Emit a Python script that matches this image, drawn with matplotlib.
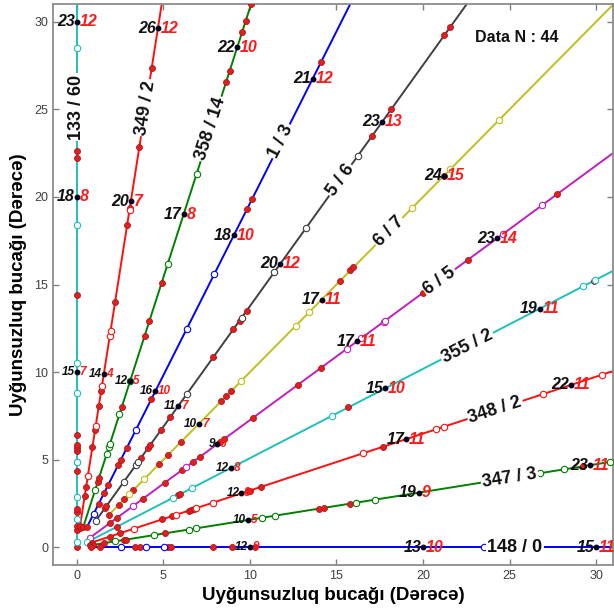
import numpy as np
import matplotlib
matplotlib.use("Agg")
from matplotlib import pyplot as plt

plt.rcParams["font.family"] = ["Liberation Sans", "DejaVu Sans"]

# direction of every line (degrees from x axis) and its label
angles = [90, 81, 72, 63, 54, 45, 36, 27, 18, 9, 0]
line_labels = ["133 / 60", "349 / 2", "358 / 14", "1 / 3", "5 / 6", "6 / 7",
               "6 / 5", "355 / 2", "348 / 2", "347 / 3", "148 / 0"]
label_pos_r = [25.1, 25.4, 25.1, 26.0, 25.9, 25.5, 25.9, 25.3, 25.4, 25.3, 25.3]

# labelled points at r = 10, 20, 30 on each line
label_r = [10, 20, 30]
black_nums = [[15, 18, 23], [14, 20, 26], [12, 17, 22], [16, 18, 21], [11, 20, 23], [10, 17, 24],
              [9, 17, 23], [12, 15, 19], [12, 17, 22], [10, 19, 23], [12, 13, 15]]
red_nums = [[7, 8, 12], [4, 7, 12], [5, 8, 10], [10, 10, 12], [7, 12, 13], [7, 11, 15],
            [6, 11, 14], [8, 10, 11], [8, 11, 11], [5, 9, 11], [9, 10, 11]]

# radial positions of the filled (red) and open markers along every line
filled_r = [
    [0.0, 1.0, 1.2, 2.05, 2.2, 4.35, 4.9, 5.5, 5.65, 5.85, 6.4, 14.4, 22.2, 22.6],
    [1.1, 1.25, 3.0, 3.5, 5.8, 6.8, 8.15, 9.05, 14.2, 18.6, 19.6, 23.1, 27.7],
    [1.2, 3.9, 4.15, 8.4, 12.7, 13.6, 15.85, 27.9, 28.6, 30.9, 31.6, 32.6],
    [1.3, 2.8, 3.5, 4.0, 5.3, 5.6, 6.35, 9.5, 21.7, 22.3, 31.1],
    [2.8, 2.9, 6.3, 7.0, 7.25, 8.3, 9.2, 13.4, 15.4, 16.0, 16.7, 29.0, 30.9, 36.1, 36.7],
    [2.6, 3.45, 3.9, 4.6, 6.7, 7.45, 8.5, 11.8, 12.2, 12.6, 21.5, 22.35, 22.6, 30.0],
    [2.35, 2.9, 4.7, 6.3, 7.5, 8.3, 8.8, 10.2, 10.5, 12.55, 15.8, 17.4, 24.7, 27.9, 34.3],
    [2.6, 6.55, 6.67, 17.6, 33.5],
    [0.9, 2.0, 2.65, 5.2, 5.8, 6.8, 6.95, 7.1, 10.4, 10.5, 11.2, 18.6],
    [0.8, 0.95, 1.6, 2.75, 2.9, 5.15, 14.15, 14.45, 15.95, 29.6],
    [0.85, 1.35, 3.35, 3.65, 5.3, 5.45, 7.85, 8.95, 10.3],
]
open_r = [
    [0.3, 1.6, 2.9, 4.9, 8.8, 10.5, 18.4, 28.5],
    [4.1, 7.0, 9.3, 12.2, 12.5, 19.5],
    [3.45, 5.6, 6.0, 6.2, 8.0, 10.0, 17.0, 22.4],
    [2.15, 7.5, 14.0, 17.5],
    [1.9, 4.6, 5.8, 6.05, 10.85, 16.2, 19.4, 22.5, 27.6],
    [4.3, 5.5, 13.4, 17.9, 19.0, 27.4, 30.5, 34.5],
    [0.95, 4.0, 7.8, 19.3, 20.3, 21.9, 22.0, 30.4, 33.2],
    [0.7, 6.27, 7.5, 16.55, 32.8, 33.6],
    [3.5, 6.0, 7.25, 8.25, 17.4, 21.8, 22.3, 28.3, 31.9],
    [2.25, 4.5, 6.55, 6.95, 10.85, 11.6, 16.3, 17.45, 27.1, 28.5, 31.2],
    [2.55, 4.02, 5.02, 23.5],
]
n_data = 44

colors = ["#1fbfbf", "#ff1010", "#008000", "#0000ff", "#404040", "#bfbf1f",
          "#bf1fbf", "#1fbfbf", "#ff1010", "#008000", "#0000ff"]

fig = plt.figure(figsize=(6.14, 6.08), dpi=100)
ax = fig.add_axes([0.0868, 0.0707, 0.9112, 0.9227])

for i, ang in enumerate(angles):
    th = np.deg2rad(ang)
    c, s = np.cos(th), np.sin(th)
    if ang == 90:
        c = 0.0
    if ang == 0:
        s = 0.0
    r_all = filled_r[i] + open_r[i]
    r_line = np.array([min(r_all), 50.0])
    ax.plot(r_line * c, r_line * s, color=colors[i], lw=1.4, zorder=2)

    fr = np.array(filled_r[i])
    ax.plot(fr * c, fr * s, "o", ms=4.3, mfc="#e02020", mec="#b01515", mew=0.6, zorder=3)
    orr = np.array(open_r[i])
    ax.plot(orr * c, orr * s, "o", ms=4.6, mfc="white", mec=colors[i], mew=0.8, zorder=3)

    # labelled points
    for j, r in enumerate(label_r):
        x, y = r * c, r * s
        fs = 8.5 if r == 10 else 11.5
        ax.plot(x, y, "o", ms=3.2, color="#000020", zorder=5)
        ax.annotate(str(black_nums[i][j]), (x, y), xytext=(-1.5, 0), textcoords="offset points",
                    ha="right", va="center", fontsize=fs, fontweight="bold", fontstyle="italic",
                    color="#111111", zorder=6)
        ax.annotate(str(red_nums[i][j]), (x, y), xytext=(2.0, 0), textcoords="offset points",
                    ha="left", va="center", fontsize=fs, fontweight="bold", fontstyle="italic",
                    color="#ff1a1a", zorder=6)

    # line label
    lr = label_pos_r[i]
    ax.text(lr * c, lr * s, line_labels[i], rotation=ang, rotation_mode="anchor",
            ha="center", va="center", fontsize=13, fontweight="bold", color="#111111",
            bbox=dict(facecolor="white", edgecolor="none", pad=1.0), zorder=4)

ax.text(23.0, 29.1, f"Data N : {n_data}", fontsize=11.5, fontweight="bold",
        ha="left", va="center", color="#111111")

ax.set_xlim(-1.35, 30.95)
ax.set_ylim(-1.0, 31.0)
ax.set_xticks([0, 5, 10, 15, 20, 25, 30])
ax.set_yticks([0, 5, 10, 15, 20, 25, 30])
ax.tick_params(direction="in", length=4, width=1, color="#808080", labelcolor="#404040",
               labelsize=9, top=True, right=True)
for sp in ax.spines.values():
    sp.set_color("#8c8c8c")
    sp.set_linewidth(1.3)

ax.set_xlabel("Uyğunsuzluq bucağı (Dərəcə)", fontsize=13.5, fontweight="bold", labelpad=4)
ax.set_ylabel("Uyğunsuzluq bucağı (Dərəcə)", fontsize=13.5, fontweight="bold", labelpad=5)

fig.savefig("out.png", dpi=100)
